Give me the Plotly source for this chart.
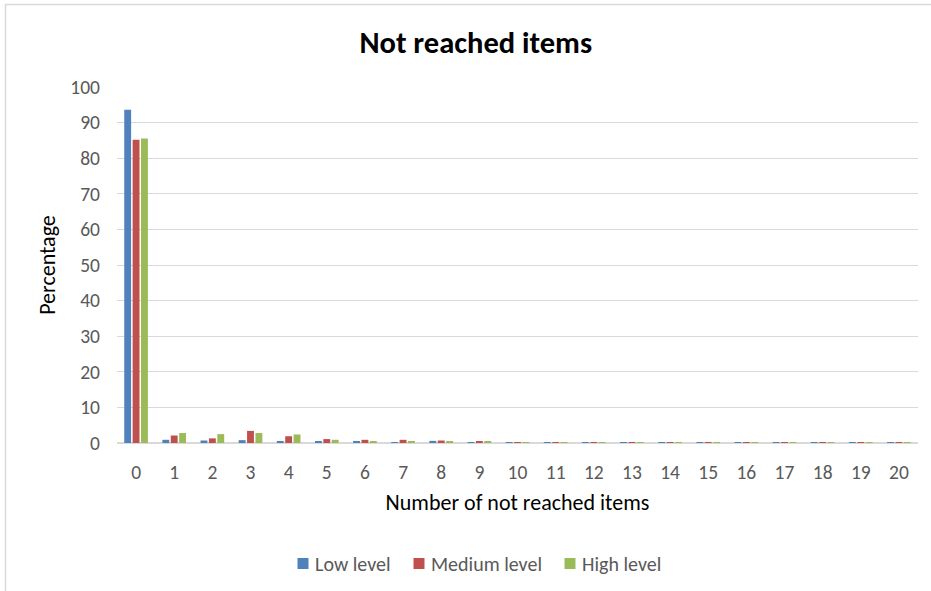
import plotly.graph_objects as go

# Number of not reached items (0..20) and percentage of students per level
categories = [str(i) for i in range(21)]
low_level = [93.6, 0.9, 0.7, 0.8, 0.4, 0.3, 0.4, 0.1, 0.6, 0.05, 0.1,
             0.1, 0.02, 0.02, 0.02, 0.02, 0.02, 0.02, 0.02, 0.02, 0.02]
medium_level = [85.2, 2.1, 1.3, 3.4, 1.9, 1.1, 0.9, 0.9, 0.7, 0.5, 0.1,
                0.02, 0.05, 0.02, 0.02, 0.02, 0.02, 0.02, 0.02, 0.02, 0.02]
high_level = [85.5, 2.8, 2.5, 2.8, 2.4, 0.9, 0.5, 0.4, 0.3, 0.5, 0.1,
              0.02, 0.02, 0.02, 0.02, 0.02, 0.02, 0.02, 0.02, 0.02, 0.02]
y_ticks = list(range(0, 101, 10))

series = [
    ("Low level", low_level, "#4F81BD"),
    ("Medium level", medium_level, "#C0504D"),
    ("High level", high_level, "#9BBB59"),
]

FONT = "Calibri, Carlito, Lato, sans-serif"
TEXT = "#595959"
GRID = "#D9D9D9"

fig = go.Figure()
for name, vals, color in series:
    fig.add_trace(go.Bar(
        x=categories, y=vals, name=name, showlegend=False,
        marker=dict(color=color, line=dict(width=0)),
    ))

W, H = 931, 591
L, R, T, B = 117, 13, 87, 148
pw, ph = W - L - R, H - T - B

def px_x(p):
    return (p - L) / pw

def px_y(p):
    return (H - B - p) / ph

# Legend row: colour key square followed by its label
legend_row_y = 563.5
legend_keys = [297.5, 413.5, 564.5]
shapes = []
annotations = []
for (name, _, color), kx in zip(series, legend_keys):
    shapes.append(dict(
        type="rect", xref="paper", yref="paper",
        x0=px_x(kx), x1=px_x(kx + 11),
        y0=px_y(legend_row_y + 5.5), y1=px_y(legend_row_y - 5.5),
        line=dict(width=0), fillcolor=color,
    ))
    annotations.append(dict(
        text=name, xref="paper", yref="paper",
        x=px_x(kx + 15), y=px_y(legend_row_y),
        xanchor="left", yanchor="middle", showarrow=False,
        font=dict(family=FONT, size=20, color=TEXT),
    ))

# Chart frame
shapes.append(dict(
    type="rect", xref="paper", yref="paper",
    x0=px_x(5.5), x1=px_x(940), y0=px_y(600), y1=px_y(4.5),
    line=dict(color=GRID, width=1.5), fillcolor="rgba(0,0,0,0)",
    layer="below",
))

fig.update_layout(
    width=W, height=H,
    margin=dict(l=L, r=R, t=T, b=B, autoexpand=False),
    paper_bgcolor="white", plot_bgcolor="white",
    barmode="group", bargap=0.34, bargroupgap=0.18,
    font=dict(family=FONT, color=TEXT, size=19.5),
    showlegend=False,
    title=dict(text="<b>Not reached items</b>", x=0.511, xanchor="center",
               y=1 - 42 / H, yanchor="middle",
               font=dict(family=FONT, size=30.5, color="#000000")),
    xaxis=dict(
        type="category", range=[-0.5, 20.5],
        showgrid=False, showline=False, zeroline=False,
        ticks="", ticklabelstandoff=15,
        tickfont=dict(size=19.5, color=TEXT),
        title=dict(text="Number of not reached items", standoff=12,
                   font=dict(size=22, color="#000000")),
    ),
    yaxis=dict(
        range=[0, 100], tickvals=y_ticks,
        showgrid=True, gridcolor=GRID, gridwidth=1,
        zeroline=True, zerolinecolor=GRID, zerolinewidth=2,
        showline=False, ticks="", ticklabelstandoff=16,
        tickfont=dict(size=19.5, color=TEXT),
        title=dict(text="Percentage", standoff=8,
                   font=dict(size=22, color="#000000")),
    ),
    shapes=shapes,
    annotations=annotations,
)

fig.write_html("out.html")
